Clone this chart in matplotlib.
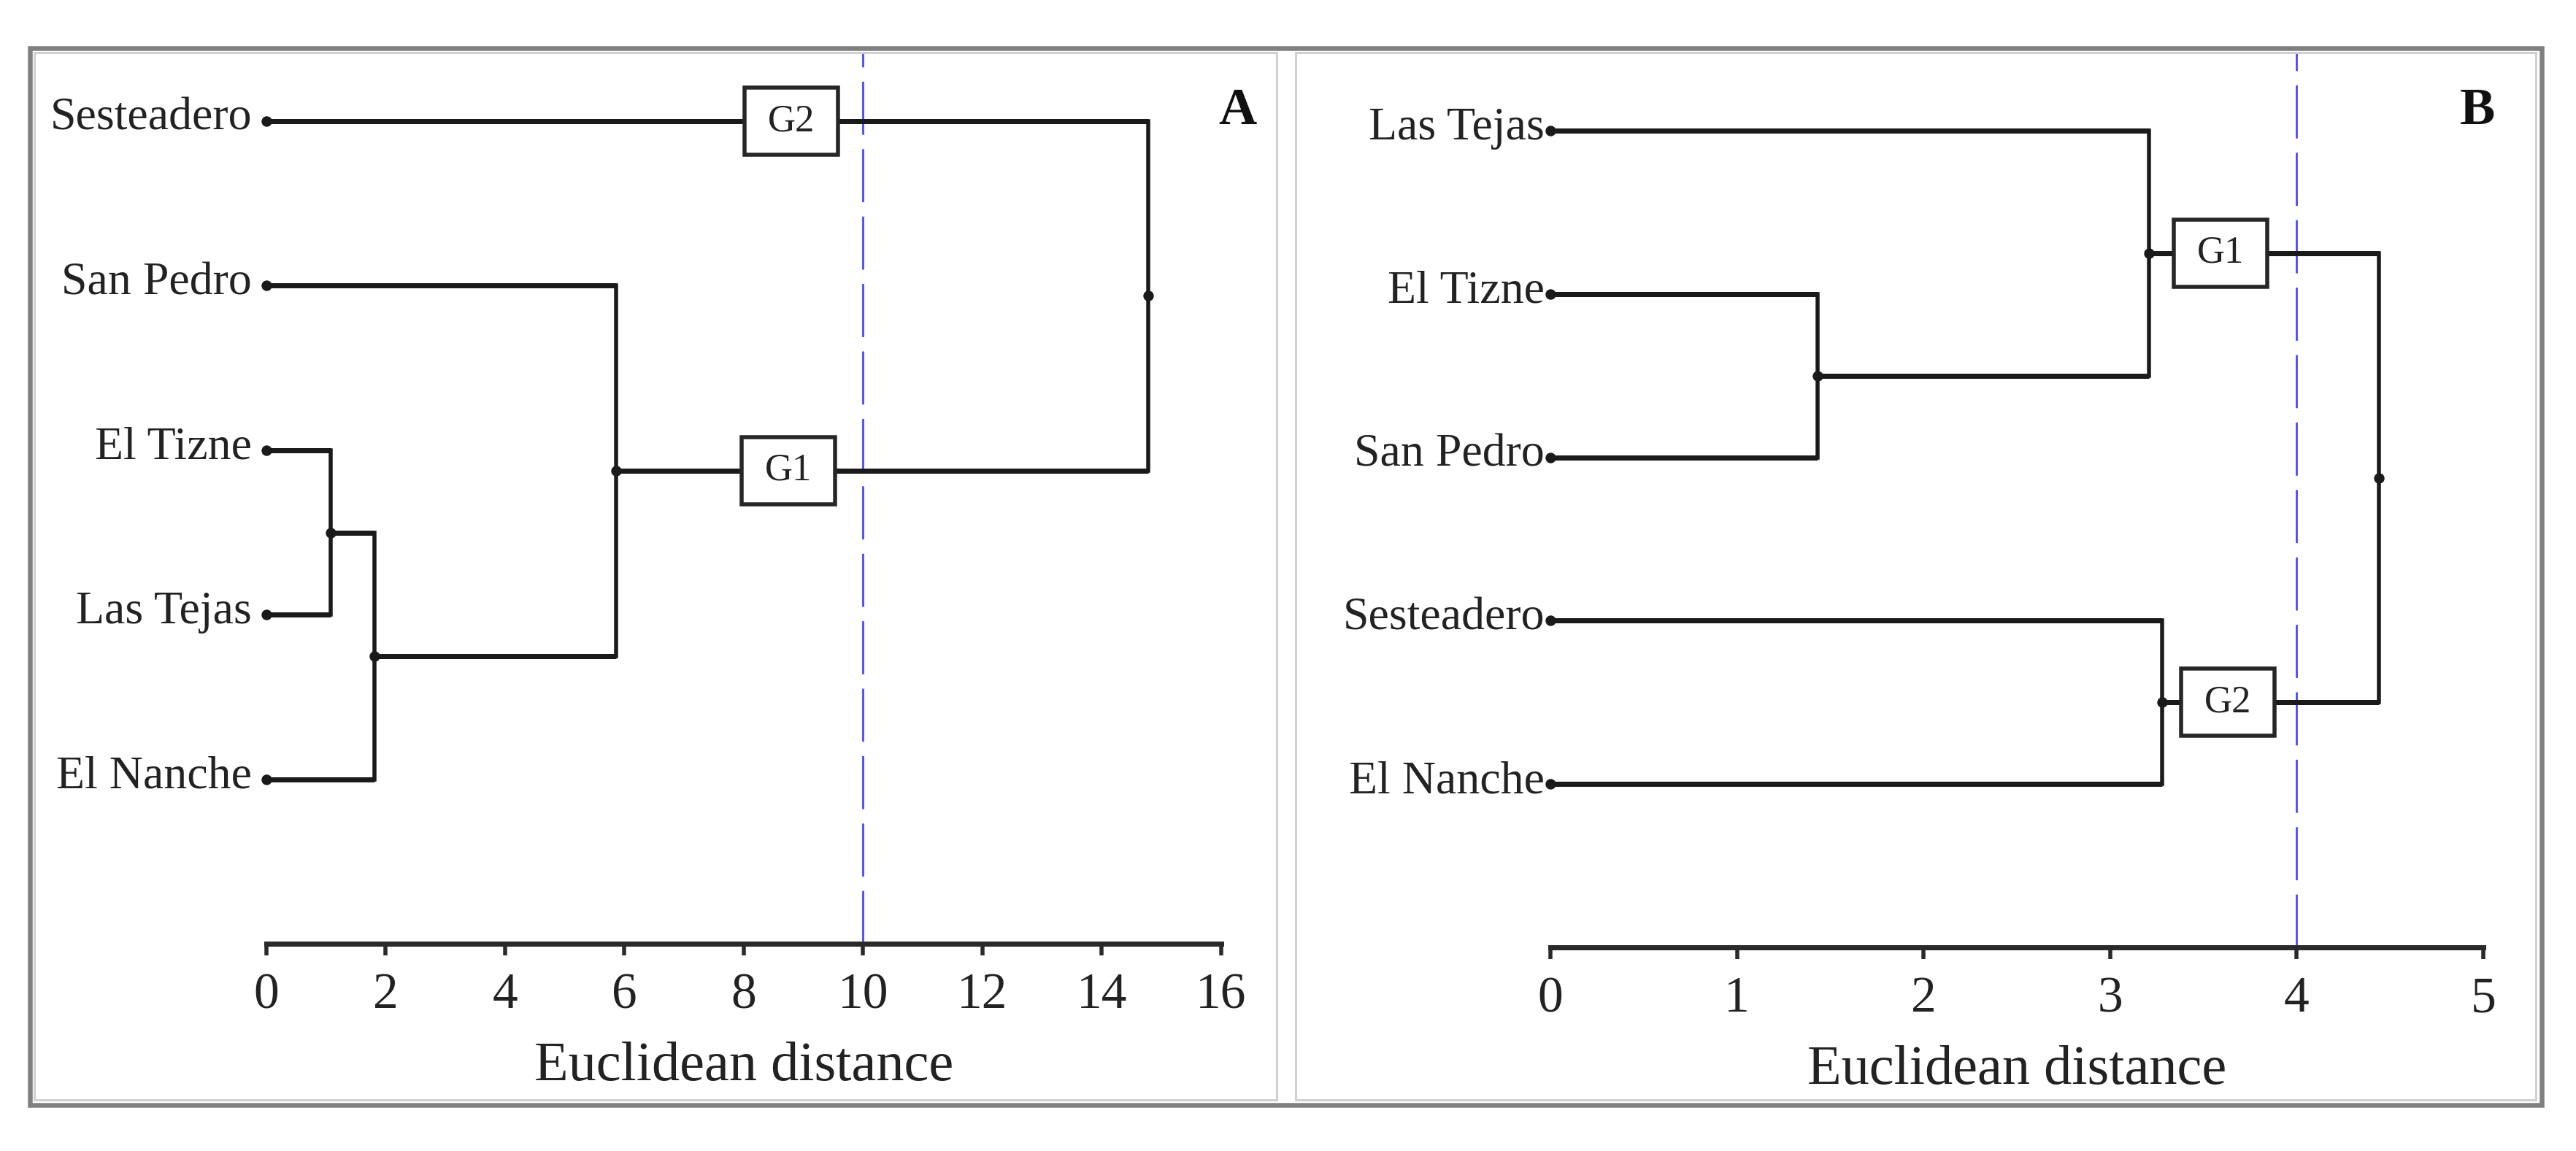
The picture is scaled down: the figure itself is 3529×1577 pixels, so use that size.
import matplotlib
matplotlib.use('Agg')
import matplotlib.pyplot as plt
from matplotlib.patches import Rectangle

# ---- data ----
# panel A: leaves top to bottom, merges as (child, child, distance); new nodes get ids 5, 6, ...
leaves_a = ['Sesteadero', 'San Pedro', 'El Tizne', 'Las Tejas', 'El Nanche']
merges_a = [(2, 3, 1.08), (5, 4, 1.81), (1, 6, 5.86), (0, 7, 14.78)]
groups_a = ['G2', 'G1']
group_nodes_a = [0, 7]
group_x_a = [8.8, 8.75]
cut_a = 10
ticks_a = [0, 2, 4, 6, 8, 10, 12, 14, 16]

# panel B
leaves_b = ['Las Tejas', 'El Tizne', 'San Pedro', 'Sesteadero', 'El Nanche']
merges_b = [(1, 2, 1.43), (0, 5, 3.21), (3, 4, 3.28), (6, 7, 4.44)]
groups_b = ['G1', 'G2']
group_nodes_b = [6, 7]
group_x_b = [3.59, 3.63]
cut_b = 4
ticks_b = [0, 1, 2, 3, 4, 5]

xlabel = 'Euclidean distance'

# ---- style ----
W, H, DPI = 3530, 1577, 100
PT = 72 / DPI          # points per pixel
LINE = '#1a1a1a'
TXT = '#222222'
plt.rcParams['font.family'] = ['Liberation Serif', 'DejaVu Serif']

fig = plt.figure(figsize=(W / DPI, H / DPI), dpi=DPI)


def fig_rect(x0, y0, x1, y1, color, lw_px):
    r = Rectangle((x0 / W, 1 - y1 / H), (x1 - x0) / W, (y1 - y0) / H,
                  transform=fig.transFigure, fill=False, edgecolor=color,
                  linewidth=lw_px * PT)
    fig.add_artist(r)


# frames
fig_rect(47, 71.5, 1749, 1507, '#d0d0d0', 3)
fig_rect(1775, 71.5, 3474, 1507, '#d0d0d0', 3)
fig_rect(41, 66, 3482, 1514, '#808080', 6.5)


def make_axes(left, right, top, bottom, ytop, xmax):
    ax = fig.add_axes([left / W, 1 - bottom / H, (right - left) / W, (bottom - top) / H])
    ax.set_xlim(0, xmax)
    ax.set_ylim(5, ytop)
    ax.patch.set_visible(False)
    for s in ['top', 'left', 'right']:
        ax.spines[s].set_visible(False)
    ax.spines['bottom'].set_color('#2a2a2a')
    ax.spines['bottom'].set_linewidth(7 * PT)
    ax.set_yticks([])
    return ax


def draw_panel(ax, leaves, merges, groups, group_nodes, group_x, cut, ticks,
               label_gap, letter, letter_xy):
    ys = {i: float(i) for i in range(len(leaves))}
    hs = {i: 0.0 for i in range(len(leaves))}
    node = len(leaves)
    for a, b, d in merges:
        for c in (a, b):
            ax.plot([hs[c], d], [ys[c], ys[c]], color=LINE, lw=7 * PT,
                    solid_capstyle='butt', clip_on=False, zorder=3)
        ax.plot([d, d], [ys[a], ys[b]], color=LINE, lw=5.5 * PT,
                solid_capstyle='projecting', clip_on=False, zorder=3)
        ys[node] = (ys[a] + ys[b]) / 2
        hs[node] = d
        node += 1
    ax.plot(list(hs.values()), list(ys.values()), 'o', color=LINE,
            ms=13 * PT, clip_on=False, zorder=4)

    for i, name in enumerate(leaves):
        ax.annotate(name, (0, i), xytext=(-label_gap, -12), textcoords='offset pixels',
                    ha='right', va='baseline', fontsize=46, color=TXT)

    # cut line
    ax.axvline(cut, color='#4a4aff', lw=2.8 * PT, linestyle=(0, (26, 7)), zorder=2)

    # group boxes, fixed size in pixels
    bw, bh = 128, 92
    inv = ax.transData.inverted()
    for g, n, gx in zip(groups, group_nodes, group_x):
        cx, cy = ax.transData.transform((gx, ys[n]))
        x0, y0 = inv.transform((cx - bw / 2, cy - bh / 2))
        x1, y1 = inv.transform((cx + bw / 2, cy + bh / 2))
        ax.add_patch(Rectangle((x0, y0), x1 - x0, y1 - y0, facecolor='white',
                               edgecolor='#262626', lw=5.5 * PT, zorder=5, clip_on=False))
        ax.text(gx, ys[n], g, ha='center', va='center', fontsize=38, color=TXT, zorder=6)

    ax.set_xticks(ticks)
    ax.set_xticklabels([str(t) for t in ticks])
    ax.tick_params(axis='x', direction='out', length=16 * PT, width=5.5 * PT,
                   color='#2a2a2a', labelsize=50, labelcolor=TXT, pad=17)
    ax.set_xlabel(xlabel, fontsize=55, color=TXT, labelpad=22)

    fig.text(letter_xy[0] / W, 1 - letter_xy[1] / H, letter, ha='right', va='baseline',
             fontsize=52, fontweight='bold', color='#111111')


ax_a = make_axes(365, 1673, 72, 1293, -(166 - 72) / 225.4, ticks_a[-1])
draw_panel(ax_a, leaves_a, merges_a, groups_a, group_nodes_a, group_x_a, cut_a, ticks_a,
           20, 'A', (1722, 170))

ax_b = make_axes(2124, 3402, 72, 1298, -(179 - 72) / 223.8, ticks_b[-1])
draw_panel(ax_b, leaves_b, merges_b, groups_b, group_nodes_b, group_x_b, cut_b, ticks_b,
           8, 'B', (3418, 170))

fig.savefig('out.png', dpi=DPI, facecolor='white')
